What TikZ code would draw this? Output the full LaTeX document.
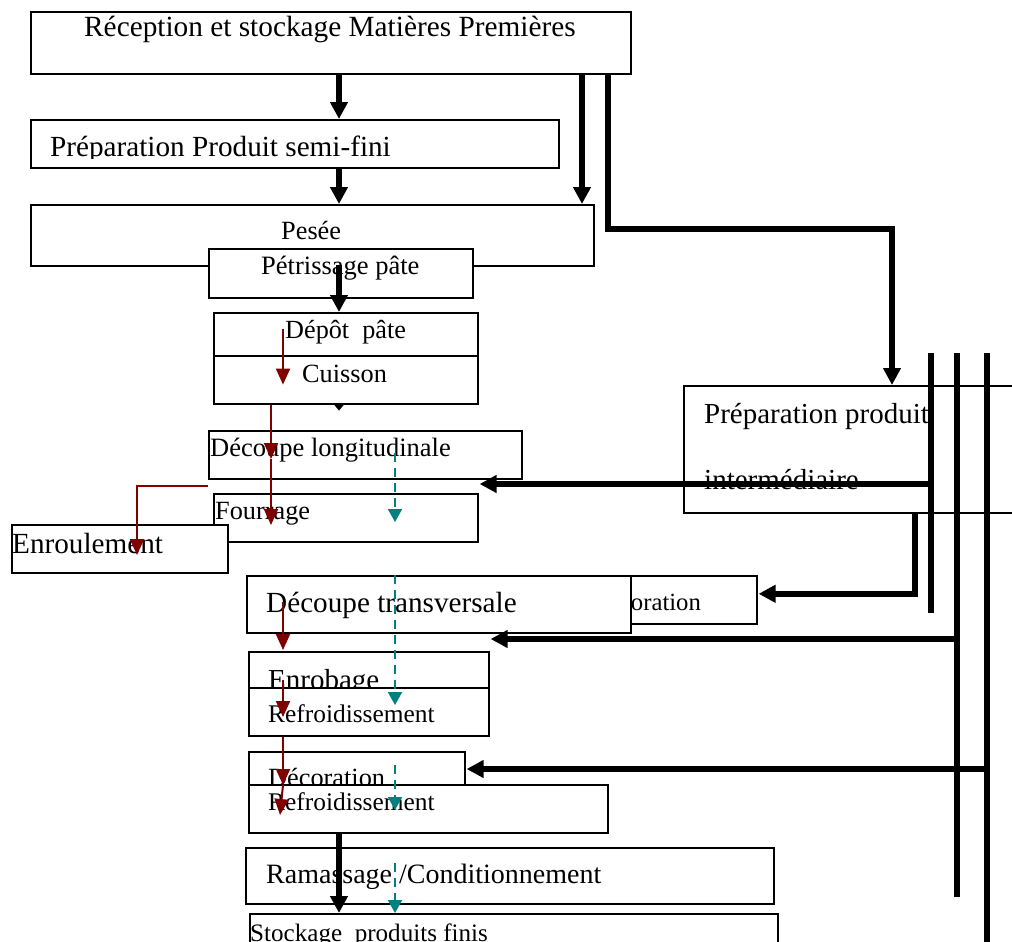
\documentclass[tikz,border=0pt]{standalone}
\usepackage{fontspec}
\setmainfont{Liberation Serif}
\usetikzlibrary{arrows.meta,calc}
\definecolor{dred}{RGB}{128,0,0}
\definecolor{tealc}{RGB}{0,128,128}
\begin{document}
\begin{tikzpicture}[x=1pt,y=-1pt,
  box/.style={draw=black,line width=1.6pt,fill=white,rectangle,inner sep=0pt,anchor=north west},
  txt/.style={inner sep=0pt,anchor=base west,font=\fontsize{#1}{#1}\selectfont},
  big/.style={line width=5.5pt,-{Triangle[length=17pt,width=17pt]}},
  bar/.style={line width=5.5pt},
  redarr/.style={draw=dred,line width=2pt,-{Triangle[length=16pt,width=14pt]},dred},
  tealarr/.style={draw=tealc,line width=2pt,dash pattern=on 9pt off 6pt,-{Triangle[length=13pt,width=14pt]},tealc}]
\useasboundingbox (0,0) rectangle (1012,942);
\fill[white] (0,0) rectangle (1012,942);

% boxes and texts
\node[box,minimum width=600pt,minimum height=62pt] (top) at (30,11) {};
\node[txt=29.3] (ttop) at (84,37) {Réception et stockage Matières Premières};

\node[box,minimum width=528pt,minimum height=48pt] (semi) at (30,119) {};
\begin{scope}
\clip (30,119) rectangle (558,158);
\node[txt=29.2] (tsemi) at (50,156) {Préparation Produit semi-fini};
\end{scope}

\node[box,minimum width=563pt,minimum height=61pt] (pesee) at (30,204) {};
\node[txt=26.3] (tpesee) at (281,239) {Pesée};

\node[box,minimum width=264pt,minimum height=49pt] (petr) at (208,248) {};
\node[txt=26.5] (tpetr) at (261,274) {Pétrissage pâte};

\node[box,minimum width=264pt,minimum height=43pt] (depot) at (213,312) {};
\node[txt=26.2] (tdepot) at (285,338) {Dépôt\ \ pâte};

\node[box,minimum width=264pt,minimum height=48pt] (cuis) at (213,355) {};
\node[txt=26.3] (tcuis) at (302,382) {Cuisson};

\node[box,minimum width=313pt,minimum height=48pt] (dlong) at (208,430) {};
\node[txt=26.5] (tdlong) at (210,456) {Découpe longitudinale};

\node[box,minimum width=264pt,minimum height=48pt] (four) at (213,493) {};
\node[txt=26.3] (tfour) at (215,519) {Fourrage};

\node[box,minimum width=216pt,minimum height=48pt] (enr) at (11,524) {};
\node[txt=29.2] (tenr) at (12,553) {Enroulement};

\node[box,minimum width=347pt,minimum height=127pt] (prep) at (683,385) {};
\node[txt=29] (tprep1) at (704,423) {Préparation produit};
\node[txt=29] (tprep2) at (704,489) {intermédiaire};

\node[box,minimum width=196pt,minimum height=48pt] (deco1) at (560,575) {};
\node[txt=24.7] (tdeco1) at (591,610) {Décoration};

\node[box,minimum width=384pt,minimum height=57pt] (dtrans) at (246,575) {};
\node[txt=29.2] (tdtrans) at (266,612) {Découpe transversale};

\node[box,minimum width=240pt,minimum height=49pt] (enrob) at (248,651) {};
\node[txt=29] (tenrob) at (268,689) {Enrobage};

\node[box,minimum width=240pt,minimum height=48pt] (refr1) at (248,687) {};
\node[txt=25.4] (trefr1) at (268,722) {Refroidissement};

\node[box,minimum width=216pt,minimum height=49pt] (deco2) at (248,751) {};
\node[txt=26.3] (tdeco2) at (268,786) {Décoration};

\node[box,minimum width=359pt,minimum height=48pt] (refr2) at (248,784) {};
\node[txt=25.4] (trefr2) at (268,810) {Refroidissement};

\node[box,minimum width=528pt,minimum height=56pt] (ram) at (245,847) {};
\node[txt=28] (tram) at (266,883) {Ramassage /Conditionnement};

\node[box,minimum width=528pt,minimum height=47pt] (stock) at (249,913) {};
\node[txt=25.1] (tstock) at (250,941) {Stockage\ \ produits finis};

% reference columns
\coordinate (cA) at (339,0);
\coordinate (cB) at (582,0);
\coordinate (cD) at (892,0);
\coordinate (cE) at (915,0);
\coordinate (cR1) at (283,0);
\coordinate (cR2) at (271,0);
\coordinate (cT) at (395,0);
\coordinate (k1) at (608,229);
\coordinate (rk) at (137,484);
\coordinate (b1t) at (931,353);
\coordinate (b1b) at (931,613);
\coordinate (b2t) at (957,353);
\coordinate (b2b) at (957,897);
\coordinate (b3t) at (987,353);
\coordinate (b3b) at (987,960);

% black main arrows
\draw[big] (top.south -| cA) -- (semi.north -| cA);
\draw[big] (semi.south -| cA) -- (pesee.north -| cA);
\draw[big] (top.south -| cB) -- (pesee.north -| cB);
\draw[big] (top.south -| k1) -- (k1) -| (prep.north -| cD);
\draw[big] ($(petr.south -| cA)+(0,-34)$) -- (depot.north -| cA);
\fill ($(cuis.south -| cA)+(-5,0)$) -- ++(10,0) -- ++(-5,6) -- cycle;
\draw[big] (refr2.south -| cA) -- (stock.north -| cA);

% bars
\draw[bar] (b1t) -- (b1b);
\draw[bar] (b2t) -- (b2b);
\draw[bar] (b3t) -- (b3b);
\draw[big] ($(b1t)+(0,131)$) -- ($(four.north east)+(1,-9)$);
\draw[big] ($(b2t)+(0,286)$) -- ($(enrob.north east)+(1,-12)$);
\draw[big] ($(b3t)+(0,416)$) -- ($(deco2.north east)+(1,18)$);
\draw[big] (prep.south -| cE) |- ($(deco1.east)+(1,-6)$);

% red arrows
\draw[redarr] ($(depot.north -| cR1)+(0,17)$) -- ($(cuis.south -| cR1)+(0,-20)$);
\draw[redarr] (cuis.south -| cR2) -- ($(dlong.north -| cR2)+(0,29)$);
\draw[redarr] ($(dlong.north -| cR2)+(0,29)$) -- ($(four.north -| cR2)+(0,32)$);
\draw[redarr] ($(dlong.south west)+(0,6)$) -| ($(enr.north -| rk)+(0,31)$);
\draw[redarr] ($(dtrans.north -| cR1)+(0,27)$) -- ($(enrob.north -| cR1)+(0,-1)$);
\draw[redarr] ($(enrob.north -| cR1)+(0,29)$) -- ($(refr1.north -| cR1)+(0,30)$);
\draw[redarr] (refr1.south -| cR1) -- ($(deco2.north -| cR1)+(0,34)$);
\draw[redarr] ($(deco2.north -| cR1)+(0,34)$) -- ($(refr2.north -| cR1)+(-3,31)$);

% teal dashed arrows
\draw[tealarr] ($(dlong.north -| cT)+(0,23)$) -- ($(four.north -| cT)+(0,29)$);
\draw[tealarr] (dtrans.north -| cT) -- ($(refr1.north -| cT)+(0,18)$);
\draw[tealarr] ($(deco2.north -| cT)+(0,14)$) -- ($(refr2.north -| cT)+(0,26)$);
\draw[tealarr] ($(ram.north -| cT)+(0,16)$) -- (stock.north -| cT);
\end{tikzpicture}
\end{document}
